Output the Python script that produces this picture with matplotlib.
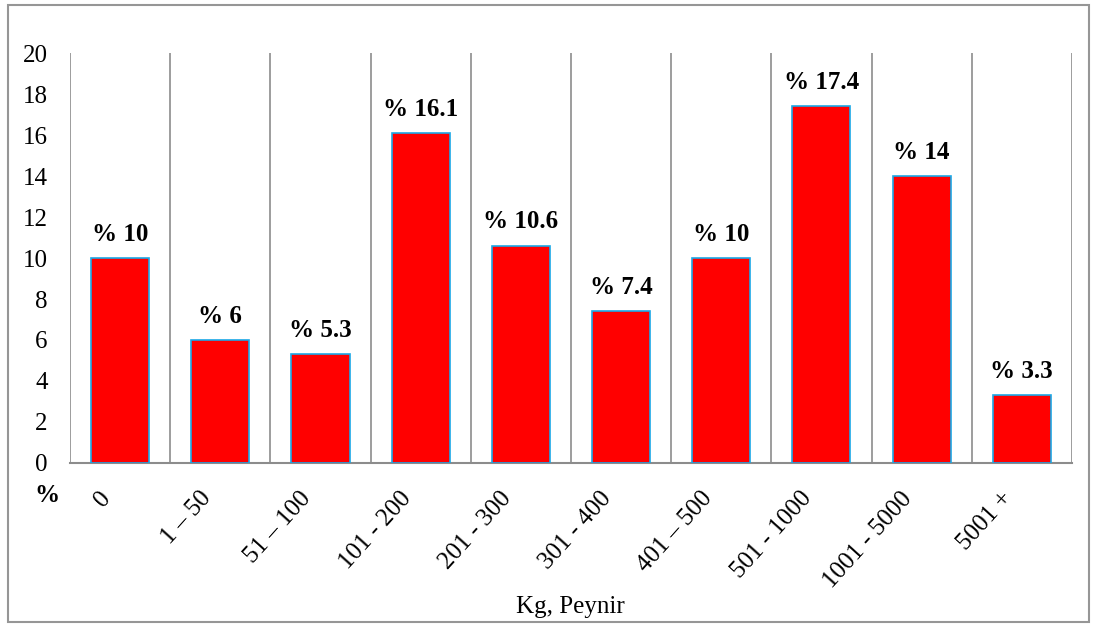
import matplotlib
matplotlib.use("Agg")
import matplotlib.pyplot as plt
import matplotlib.transforms as mtransforms
import numpy as np

# data
categories = ['0', '1 – 50', '51 – 100', '101 - 200', '201 - 300',
              '301 - 400', '401 – 500', '501 - 1000', '1001 - 5000', '5001 +']
values = [10, 6, 5.3, 16.1, 10.6, 7.4, 10, 17.4, 14, 3.3]
y_ticks = [0, 2, 4, 6, 8, 10, 12, 14, 16, 18, 20]

plt.rcParams['font.family'] = ['Liberation Serif', 'DejaVu Serif']

fig = plt.figure(figsize=(10.96, 6.26), dpi=100)
ax = fig.add_axes([0.0639, 0.2604, 0.9141, 0.6549])

# outer frame around the whole chart
fig.patches.append(plt.Rectangle((0.0075, 0.006), 0.986, 0.986, transform=fig.transFigure,
                                 fill=False, edgecolor='#969696', linewidth=1.5))

x = np.arange(len(categories))
ax.bar(x, values, width=0.58, color='#FF0000', edgecolor='#1BA8E6', linewidth=1.2, zorder=3)

# value labels above the bars
for xi, v in zip(x, values):
    ax.text(xi, v + 0.85, f"% {v:g}", ha='center', va='baseline',
            fontsize=18, fontweight='bold')

# vertical separators between categories
for b in np.arange(len(categories) + 1) - 0.5:
    ax.axvline(b, color='#8C8C8C', linewidth=1.2, zorder=1)

ax.set_xlim(-0.5, len(categories) - 0.5)
ax.set_ylim(0, 20)
ax.set_yticks(y_ticks)
ax.tick_params(axis='y', length=0, labelsize=18, pad=16)
ax.set_xticks(x)
ax.set_xticklabels(categories, rotation=48, ha='right', va='center',
                   rotation_mode='anchor', fontsize=18)
ax.tick_params(axis='x', length=0, pad=23)
offset = mtransforms.ScaledTranslation(-13 / 100, 0, fig.dpi_scale_trans)
for lbl in ax.get_xticklabels():
    lbl.set_transform(lbl.get_transform() + offset)

for s in ['top', 'right', 'left']:
    ax.spines[s].set_visible(False)
ax.spines['bottom'].set_color('#8C8C8C')
ax.spines['bottom'].set_linewidth(1.5)

fig.text(0.043, 0.2077, '%', fontsize=18, fontweight='bold', ha='center', va='center')
fig.text(0.52, 0.030, 'Kg, Peynir', fontsize=18, ha='center', va='center')

fig.savefig('out.png', dpi=100)
